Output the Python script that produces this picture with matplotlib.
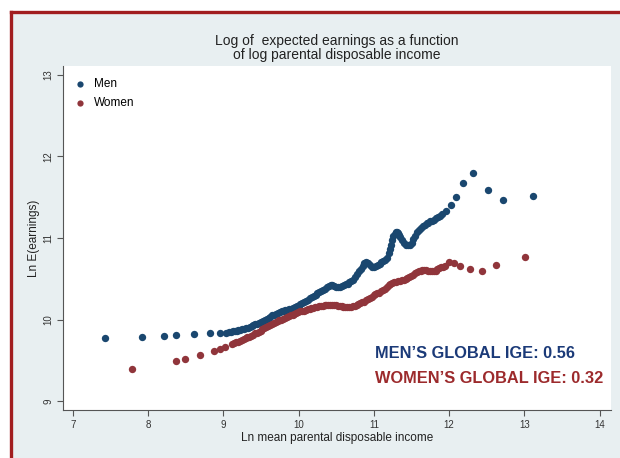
import matplotlib
matplotlib.use("Agg")
import matplotlib.pyplot as plt
from matplotlib.patches import Rectangle
from matplotlib.lines import Line2D

plt.rcParams['font.family'] = ['Liberation Sans', 'DejaVu Sans']

# men: ln parental income (x), ln expected earnings (y)
men_x = [7.43, 7.92, 8.21, 8.37, 8.61, 8.82, 8.95,
         9.04, 9.07, 9.10, 9.125, 9.15, 9.175, 9.20, 9.225, 9.25, 9.275,
         9.30, 9.325, 9.35, 9.375, 9.40, 9.425, 9.45, 9.475, 9.50, 9.525,
         9.55, 9.575, 9.60, 9.625, 9.65, 9.675, 9.70, 9.725, 9.75, 9.775,
         9.80, 9.825, 9.85, 9.875, 9.90, 9.925, 9.95, 9.975, 10.00, 10.025,
         10.05, 10.075, 10.10, 10.125, 10.15, 10.175, 10.20, 10.225, 10.25, 10.275,
         10.30, 10.325, 10.35, 10.375, 10.40, 10.425, 10.45, 10.475, 10.50, 10.525,
         10.55, 10.575, 10.60, 10.625, 10.65, 10.675, 10.70, 10.725, 10.75, 10.775,
         10.80, 10.825, 10.85, 10.875, 10.90, 10.925, 10.95, 10.975, 11.00, 11.025,
         11.05, 11.075, 11.10, 11.125, 11.15, 11.175, 11.20, 11.215, 11.23, 11.245,
         11.26, 11.275, 11.29, 11.305, 11.32, 11.335, 11.35, 11.375, 11.40, 11.425,
         11.45, 11.475, 11.50, 11.525, 11.55, 11.575, 11.60, 11.625, 11.65, 11.675,
         11.70, 11.725, 11.75, 11.775, 11.80, 11.825, 11.85, 11.875, 11.91,
         11.96, 12.03, 12.09, 12.19, 12.32, 12.51, 12.71, 13.11]
men_y = [9.77, 9.78, 9.80, 9.81, 9.82, 9.83, 9.84,
         9.84, 9.845, 9.85, 9.855, 9.86, 9.865, 9.87, 9.875, 9.88, 9.885,
         9.89, 9.90, 9.91, 9.92, 9.93, 9.94, 9.95, 9.96, 9.97, 9.98,
         9.99, 10.005, 10.02, 10.035, 10.05, 10.06, 10.07, 10.08, 10.09, 10.10,
         10.11, 10.115, 10.12, 10.125, 10.13, 10.14, 10.15, 10.16, 10.17, 10.185,
         10.20, 10.215, 10.23, 10.245, 10.26, 10.275, 10.29, 10.305, 10.32, 10.335,
         10.35, 10.365, 10.38, 10.395, 10.41, 10.42, 10.42, 10.41, 10.40, 10.40,
         10.40, 10.41, 10.42, 10.43, 10.44, 10.455, 10.47, 10.49, 10.52, 10.555,
         10.59, 10.625, 10.66, 10.69, 10.70, 10.69, 10.67, 10.65, 10.64, 10.655,
         10.67, 10.685, 10.70, 10.715, 10.73, 10.76, 10.81, 10.86, 10.92, 10.97,
         11.02, 11.05, 11.07, 11.07, 11.06, 11.04, 11.01, 10.97, 10.94, 10.92,
         10.91, 10.92, 10.94, 10.985, 11.03, 11.07, 11.10, 11.125, 11.15, 11.165,
         11.18, 11.19, 11.205, 11.21, 11.22, 11.24, 11.26, 11.275, 11.30,
         11.33, 11.40, 11.50, 11.67, 11.80, 11.59, 11.47, 11.52]

# women
women_x = [7.79, 8.37, 8.49, 8.69, 8.87, 8.96, 9.02,
           9.12, 9.145, 9.17, 9.195, 9.22, 9.245, 9.27, 9.295, 9.32, 9.345,
           9.37, 9.395, 9.42, 9.445, 9.47, 9.495, 9.52, 9.545, 9.57, 9.595,
           9.62, 9.645, 9.67, 9.695, 9.72, 9.745, 9.77, 9.795, 9.82, 9.845,
           9.87, 9.895, 9.92, 9.945, 9.97, 9.995, 10.02, 10.045, 10.07, 10.095,
           10.12, 10.145, 10.17, 10.195, 10.22, 10.245, 10.27, 10.295, 10.32, 10.345,
           10.37, 10.395, 10.42, 10.445, 10.47, 10.495, 10.52, 10.545, 10.57, 10.595,
           10.62, 10.645, 10.67, 10.695, 10.72, 10.745, 10.77, 10.795, 10.82, 10.845,
           10.87, 10.895, 10.92, 10.945, 10.97, 10.995, 11.02, 11.045, 11.07, 11.095,
           11.12, 11.145, 11.17, 11.195, 11.22, 11.245, 11.27, 11.295, 11.32, 11.345,
           11.37, 11.395, 11.42, 11.445, 11.47, 11.495, 11.52, 11.545, 11.57, 11.595,
           11.62, 11.645, 11.67, 11.695, 11.72, 11.745, 11.77, 11.795, 11.82, 11.845,
           11.87, 11.895, 11.92, 11.94,
           12.00, 12.06, 12.15, 12.28, 12.44, 12.62, 13.01]
women_y = [9.39, 9.49, 9.52, 9.56, 9.61, 9.64, 9.66,
           9.70, 9.71, 9.72, 9.73, 9.74, 9.75, 9.76, 9.77, 9.78, 9.79,
           9.80, 9.815, 9.83, 9.84, 9.85, 9.865, 9.88, 9.895, 9.91, 9.92,
           9.93, 9.945, 9.96, 9.97, 9.98, 9.99, 10.00, 10.01, 10.02, 10.03,
           10.04, 10.05, 10.06, 10.07, 10.08, 10.09, 10.10, 10.105, 10.11, 10.12,
           10.13, 10.135, 10.14, 10.145, 10.15, 10.155, 10.16, 10.165, 10.17, 10.175,
           10.18, 10.18, 10.18, 10.18, 10.18, 10.175, 10.17, 10.165, 10.16, 10.155,
           10.15, 10.15, 10.15, 10.155, 10.16, 10.17, 10.18, 10.19, 10.20, 10.21,
           10.22, 10.235, 10.25, 10.265, 10.28, 10.295, 10.31, 10.32, 10.33, 10.345,
           10.36, 10.38, 10.40, 10.42, 10.44, 10.45, 10.46, 10.465, 10.47, 10.475,
           10.48, 10.49, 10.50, 10.51, 10.52, 10.535, 10.55, 10.565, 10.58, 10.59,
           10.60, 10.605, 10.61, 10.605, 10.60, 10.595, 10.59, 10.595, 10.60, 10.615,
           10.63, 10.64, 10.65, 10.66,
           10.70, 10.69, 10.66, 10.62, 10.60, 10.67, 10.77]

men_color = '#1a476f'
women_color = '#90353b'
bg = '#e8eff1'

fig = plt.figure(figsize=(6.2, 4.58), dpi=100, facecolor='white')

# panel background + red frame (left and top only)
fig.patches.append(Rectangle((11/620, 0), 1, 1 - 13/458, transform=fig.transFigure,
                             facecolor=bg, edgecolor='none', zorder=-5))
fig.lines.append(Line2D([10.5/620, 10.5/620], [0, 1 - 11.5/458], transform=fig.transFigure,
                        color='#a11d1f', lw=2.4, zorder=-4))
fig.lines.append(Line2D([10.5/620, 1], [1 - 11.5/458, 1 - 11.5/458], transform=fig.transFigure,
                        color='#a11d1f', lw=2.4, zorder=-4))

ax = fig.add_axes([63/620, 1 - 410/458, 548/620, 344/458])
ax.set_facecolor('white')

ax.scatter(men_x, men_y, s=28, color=men_color, lw=0, label='Men', zorder=3)
ax.scatter(women_x, women_y, s=28, color=women_color, lw=0, label='Women', zorder=3)

ax.set_xlim(6.87, 14.15)
ax.set_ylim(8.89, 13.11)
ax.set_xticks(range(7, 15))
ax.set_yticks(range(9, 14))
ax.tick_params(axis='both', labelsize=7, color='#555555', length=4, width=0.8,
               labelcolor='#333333', pad=3)
for lbl in ax.get_yticklabels():
    lbl.set_rotation(90)
    lbl.set_va('center')
for s in ['top', 'right']:
    ax.spines[s].set_visible(False)
for s in ['left', 'bottom']:
    ax.spines[s].set_color('#555555')
    ax.spines[s].set_linewidth(0.8)

ax.set_xlabel('Ln mean parental disposable income', fontsize=8.5, color='#222222', labelpad=2)
ax.set_ylabel('Ln E(earnings)', fontsize=8.5, color='#222222', labelpad=2)
ax.set_title('Log of  expected earnings as a function\nof log parental disposable income',
             fontsize=10, color='#222222', pad=5, linespacing=1.05)

ax.legend(loc='upper left', frameon=False, fontsize=8.5, handletextpad=0.2,
          borderaxespad=0.0, labelspacing=0.65, markerscale=0.85,
          bbox_to_anchor=(0.0, 0.98))

ax.text(0.569, 0.163, 'MEN\u2019S GLOBAL IGE: 0.56', transform=ax.transAxes,
        fontsize=11.8, fontweight='bold', color='#1b3a78', va='center')
ax.text(0.569, 0.093, 'WOMEN\u2019S GLOBAL IGE: 0.32', transform=ax.transAxes,
        fontsize=11.8, fontweight='bold', color='#9c2a2c', va='center')

fig.savefig('out.png', dpi=100, facecolor=fig.get_facecolor())
